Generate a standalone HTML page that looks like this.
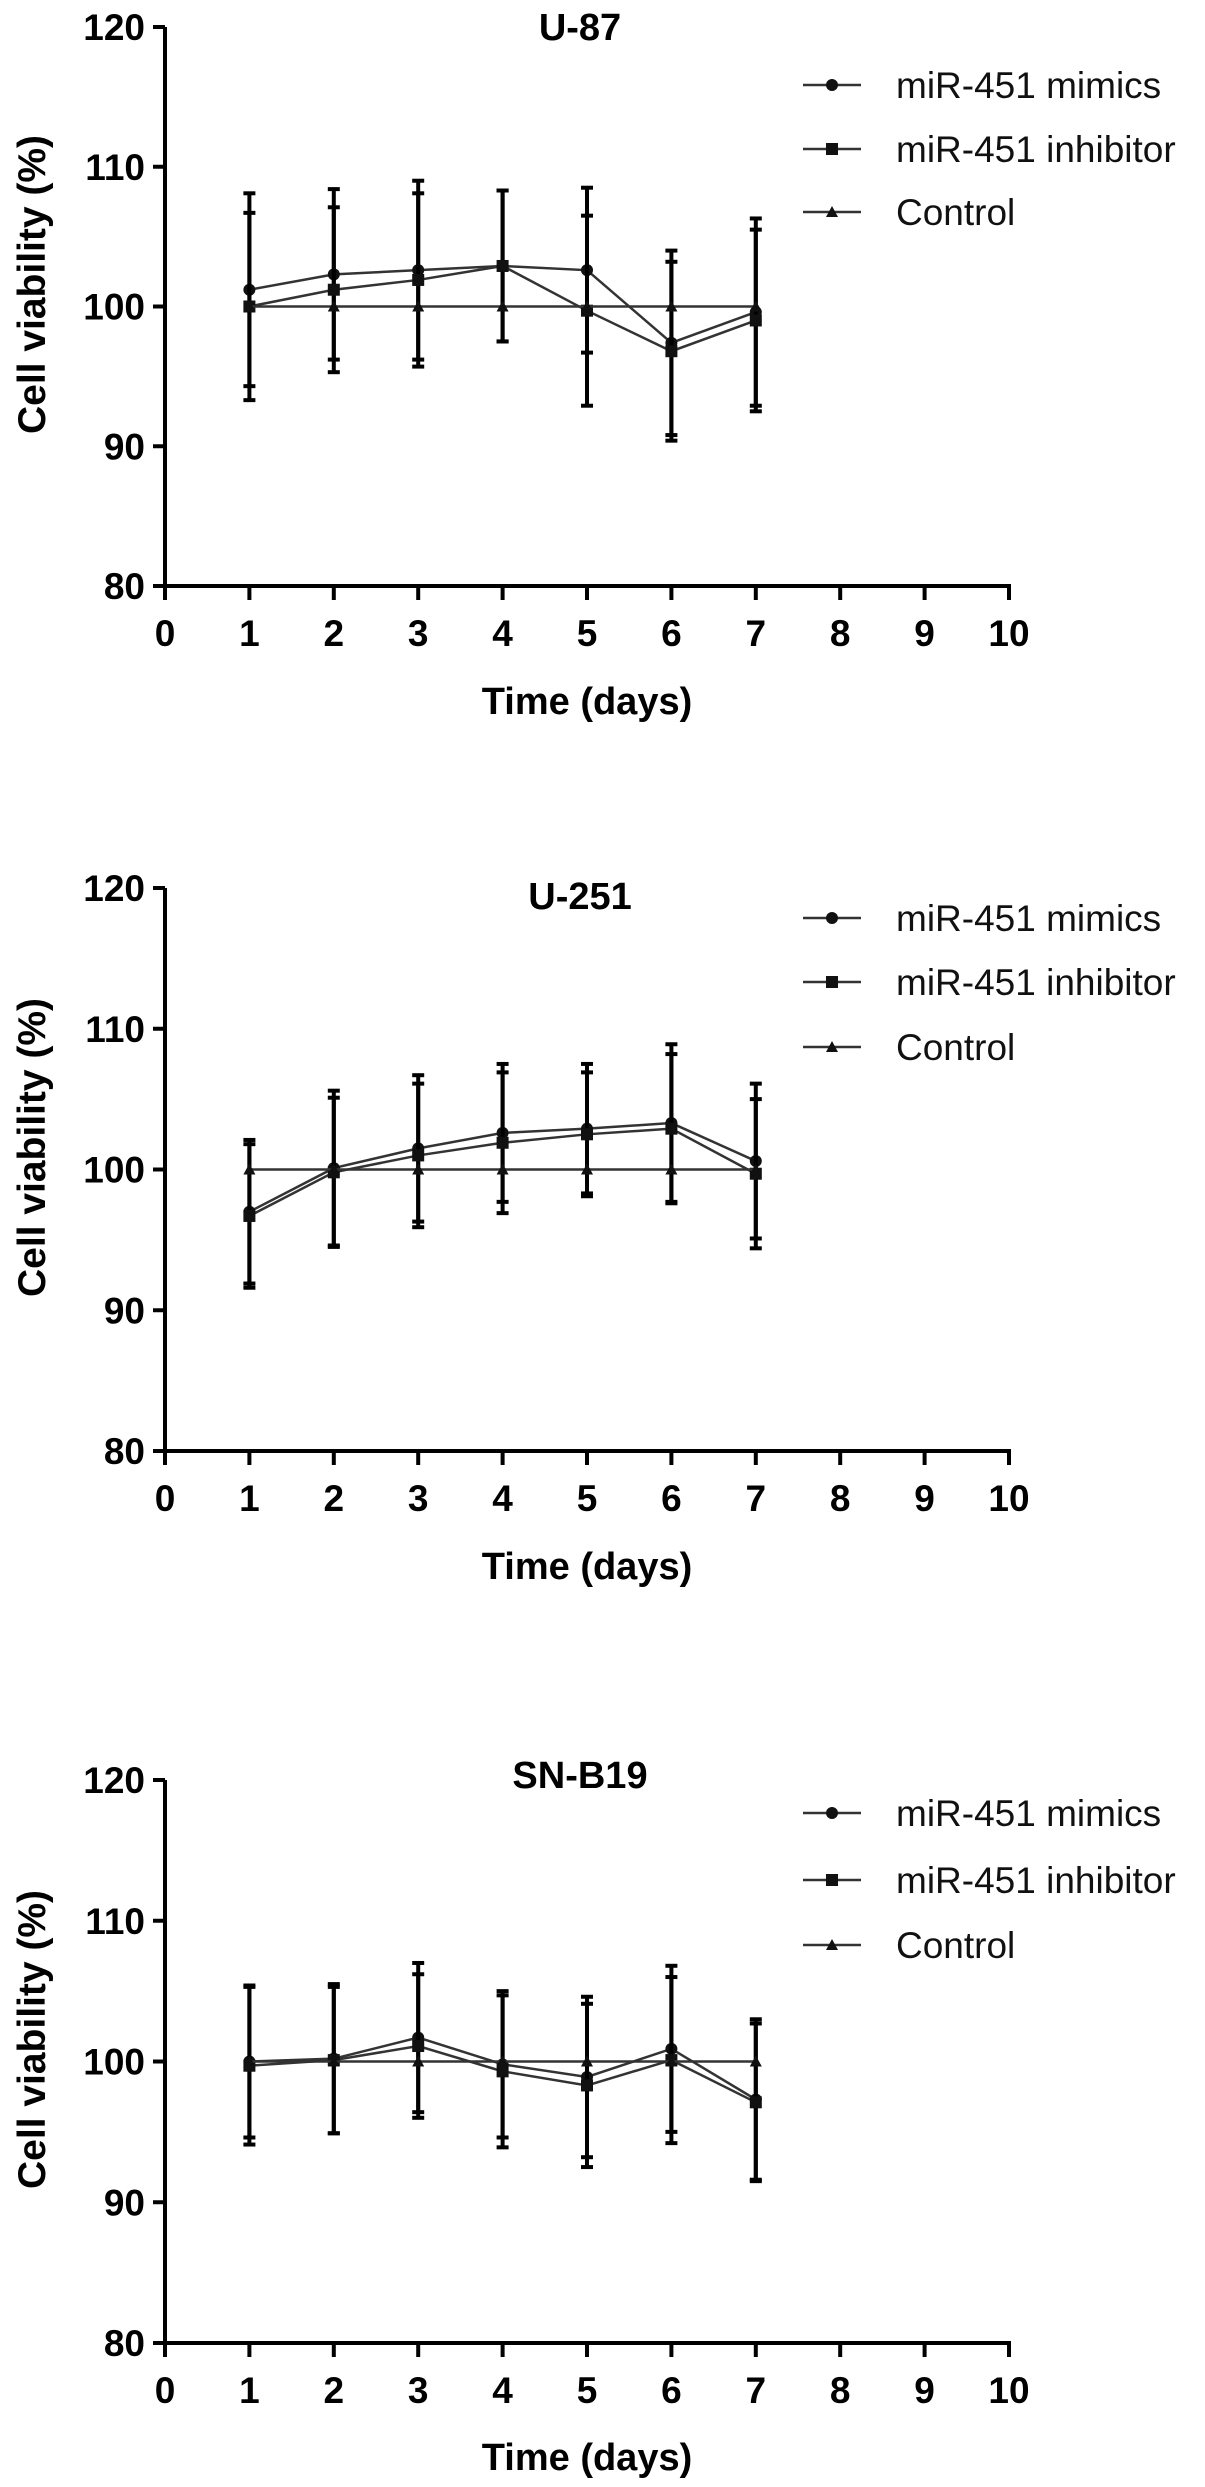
<!DOCTYPE html>
<html><head><meta charset="utf-8"><style>
html,body{margin:0;padding:0;background:#fff;}
svg{display:block;font-family:"Liberation Sans",Arial,sans-serif;}
</style></head>
<body>
<svg id="fig" width="1205" height="2487" viewBox="0 0 1205 2487" xmlns="http://www.w3.org/2000/svg"></svg>
<script>
const days = [1,2,3,4,5,6,7];
const xTicks = [0,1,2,3,4,5,6,7,8,9,10];
const yTicks = [80,90,100,110,120];
const seriesNames = ["miR-451 mimics","miR-451 inhibitor","Control"];
const chartTitles = ["U-87","U-251","SN-B19"];

const u87Mimics = [101.2,102.3,102.6,102.9,102.6,97.4,99.6];
const u87MimicsErr = [6.9,6.1,6.4,5.4,5.9,6.6,6.7];
const u87Inhib = [100.0,101.2,101.9,102.9,99.7,96.8,99.0];
const u87InhibErr = [6.7,5.9,6.2,5.4,6.8,6.4,6.5];
const u87Control = [100,100,100,100,100,100,100];

const u251Mimics = [97.0,100.1,101.5,102.6,102.9,103.3,100.6];
const u251MimicsErr = [5.1,5.5,5.2,4.9,4.6,5.6,5.5];
const u251Inhib = [96.7,99.8,101.0,101.9,102.5,102.9,99.7];
const u251InhibErr = [5.1,5.3,5.1,5.0,4.4,5.3,5.3];
const u251Control = [100,100,100,100,100,100,100];

const snMimics = [100.0,100.2,101.7,99.8,98.9,100.9,97.3];
const snMimicsErr = [5.4,5.3,5.3,5.2,5.7,5.9,5.7];
const snInhib = [99.7,100.1,101.1,99.3,98.3,100.1,97.1];
const snInhibErr = [5.6,5.2,5.1,5.4,5.8,5.9,5.6];
const snControl = [100,100,100,100,100,100,100];

const NS = "http://www.w3.org/2000/svg";
const svg = document.getElementById('fig');
function mk(tag, attrs, parent){
  const e = document.createElementNS(NS, tag);
  for (const k in attrs) e.setAttribute(k, attrs[k]);
  (parent||svg).appendChild(e);
  return e;
}
function marker(g, shape, x, y){
  let m;
  if (shape==='circle') m = mk('circle',{cx:x,cy:y,r:6,fill:'#111'},g);
  else if (shape==='square') m = mk('rect',{x:x-6,y:y-6,width:12,height:12,fill:'#111'},g);
  else m = mk('polygon',{points:`${x},${y-6} ${x-6},${y+5} ${x+6},${y+5}`,fill:'#111'},g);
  return m;
}

const charts = [
  {key:'u87', top:27, bottom:586, titleY:40, legendY:[85,149,212], xTitleY:714,
   series:[[u87Mimics,u87MimicsErr,'circle'],[u87Inhib,u87InhibErr,'square'],[u87Control,null,'triangle']]},
  {key:'u251', top:888, bottom:1451, titleY:909, legendY:[918,982,1047], xTitleY:1579,
   series:[[u251Mimics,u251MimicsErr,'circle'],[u251Inhib,u251InhibErr,'square'],[u251Control,null,'triangle']]},
  {key:'snb19', top:1780, bottom:2343, titleY:1788, legendY:[1813,1880,1945], xTitleY:2470,
   series:[[snMimics,snMimicsErr,'circle'],[snInhib,snInhibErr,'square'],[snControl,null,'triangle']]}
];
const X0 = 165, X1 = 1009;

charts.forEach((c, ci) => {
  const g = mk('g',{});
  
  
  const xs = d => X0 + (d - 0) / 10 * (X1 - X0);
  const ys = v => c.bottom - (v - 80) / 40 * (c.bottom - c.top);

  const ya = mk('line',{x1:X0,y1:c.top,x2:X0,y2:c.bottom+2,stroke:'#000','stroke-width':4},g);
  
  
  const xa = mk('line',{x1:X0-2,y1:c.bottom,x2:X1+2,y2:c.bottom,stroke:'#000','stroke-width':4},g);
  
  

  yTicks.forEach(t => {
    const y = ys(t);
    mk('line',{x1:X0-12,y1:y,x2:X0,y2:y,stroke:'#000','stroke-width':4},g);
    const tl = mk('text',{x:X0-20,y:y+13,'text-anchor':'end','font-size':37,'font-weight':'bold',fill:'#000'},g);
    tl.textContent = t;
    
    
  });
  xTicks.forEach(t => {
    const x = xs(t);
    mk('line',{x1:x,y1:c.bottom,x2:x,y2:c.bottom+14,stroke:'#000','stroke-width':4},g);
    const tl = mk('text',{x:x,y:c.bottom+60,'text-anchor':'middle','font-size':37,'font-weight':'bold',fill:'#000'},g);
    tl.textContent = t;
    
    
  });

  const tt = mk('text',{x:580,y:c.titleY,'text-anchor':'middle','font-size':38,'font-weight':'bold',fill:'#000'},g);
  tt.textContent = chartTitles[ci];
  
  

  const xt = mk('text',{x:587,y:c.xTitleY,'text-anchor':'middle','font-size':38,'font-weight':'bold',fill:'#000'},g);
  xt.textContent = 'Time (days)';
  
  

  const cy = (c.top + c.bottom)/2 - 22;
  const yt = mk('text',{x:0,y:0,'text-anchor':'middle','font-size':39,'font-weight':'bold',fill:'#000',
    transform:`translate(45 ${cy}) rotate(-90)`},g);
  yt.textContent = 'Cell viability (%)';
  
  

  c.series.forEach((s, si) => {
    const [vals, errs, shape] = s;
    const sg = mk('g',{},g);
    
    
    const pts = days.map((d,i) => `${xs(d)},${ys(vals[i])}`).join(' ');
    mk('polyline',{points:pts,fill:'none',stroke:'#333','stroke-width':2.5},sg);
    days.forEach((d,i) => {
      const x = xs(d), y = ys(vals[i]);
      if (errs) {
        const hi = ys(vals[i]+errs[i]), lo = ys(vals[i]-errs[i]);
        const eb = mk('line',{x1:x,y1:hi,x2:x,y2:lo,stroke:'#000','stroke-width':4},sg);
        
        
        mk('line',{x1:x-6,y1:hi,x2:x+6,y2:hi,stroke:'#000','stroke-width':4},sg);
        mk('line',{x1:x-6,y1:lo,x2:x+6,y2:lo,stroke:'#000','stroke-width':4},sg);
      }
      const m = marker(sg, shape, x, y);
      
      
    });
  });

  const shapes = ['circle','square','triangle'];
  seriesNames.forEach((n, li) => {
    const ly = c.legendY[li];
    const lg = mk('g',{},g);
    
    
    mk('line',{x1:803,y1:ly,x2:861,y2:ly,stroke:'#333','stroke-width':2.5},lg);
    marker(lg, shapes[li], 832, ly);
    const lt = mk('text',{x:896,y:ly+13,'font-size':37,fill:'#111'},lg);
    lt.textContent = n;
  });
});
</script>
</body></html>
